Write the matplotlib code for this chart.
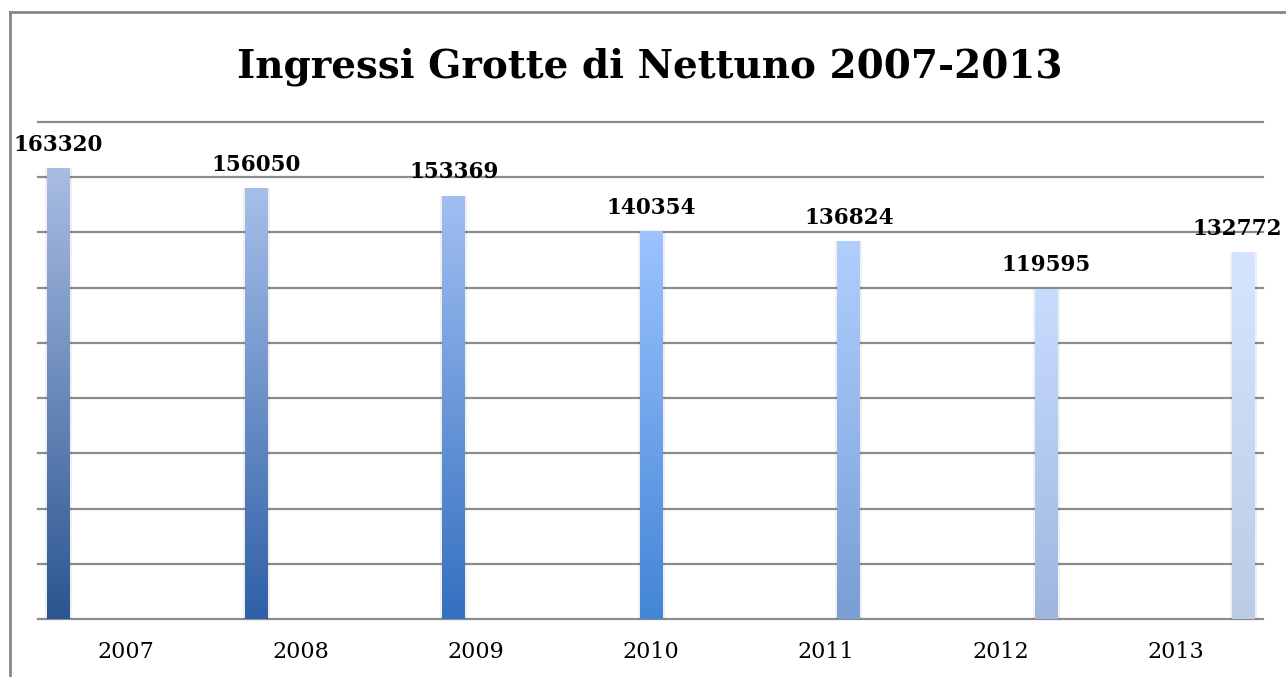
import numpy as np
import matplotlib
matplotlib.use("Agg")
import matplotlib.pyplot as plt
from matplotlib.colors import LinearSegmentedColormap
from matplotlib.lines import Line2D

years = ["2007", "2008", "2009", "2010", "2011", "2012", "2013"]
visitors = [163320, 156050, 153369, 140354, 136824, 119595, 132772]
top_colors = ["#a9bde3", "#a6bfea", "#a1bff2", "#9cc3ff", "#b0cfff", "#c8dcff", "#d6e4ff"]
bottom_colors = ["#2b5590", "#2f60a6", "#3470bf", "#4385d6", "#789ed6", "#a0b6df", "#bccbe6"]
title = "Ingressi Grotte di Nettuno 2007-2013"

W, H = 1286, 677
fig = plt.figure(figsize=(W / 100, H / 100), dpi=100)
ax = fig.add_axes([38 / W, (H - 619) / H, 1225 / W, 497 / H])

n = len(years)
cat = np.arange(n)
bar_pos = -0.383 + cat * 1.129
bar_w = 0.131

ax.set_xlim(-0.5, n - 0.5)
ax.set_ylim(0, 180000)
ax.set_yticks(np.arange(0, 180001, 20000))
ax.yaxis.grid(True, color="#8c8c8c", linewidth=1.6, zorder=0)
for gl in ax.yaxis.get_gridlines():
    gl.set_clip_on(False)
ax.set_axisbelow(True)
ax.tick_params(axis="y", left=False, labelleft=False)
ax.set_xticks(cat)
ax.set_xticklabels(years, family="DejaVu Serif", fontsize=16)
ax.tick_params(axis="x", length=0, pad=16)
for s in ax.spines.values():
    s.set_visible(False)

bars = ax.bar(bar_pos, visitors, width=bar_w, color="none", zorder=3)
for i, b in enumerate(bars):
    x0, y0 = b.get_x(), b.get_y()
    w, h = b.get_width(), b.get_height()
    # soft shadow
    ax.bar(x0 + w / 2, h, width=w * 1.18, color="#000000", alpha=0.06, zorder=2)
    cmap = LinearSegmentedColormap.from_list(f"g{i}", [bottom_colors[i], top_colors[i]])
    grad = np.linspace(0, 1, 256).reshape(-1, 1)
    im = ax.imshow(grad, extent=(x0, x0 + w, y0, y0 + h), origin="lower",
                   cmap=cmap, aspect="auto", zorder=3)
    im.set_clip_path(b)
    dx = -4.5 if i == n - 1 else 0
    ax.annotate(f"{visitors[i]}", (x0 + w / 2, h), xytext=(dx, 12.5),
                textcoords="offset points", ha="center", va="baseline",
                family="DejaVu Serif", fontweight="bold", fontsize=15.5,
                zorder=5, annotation_clip=False)

ax.set_xlim(-0.5, n - 0.5)
ax.set_ylim(0, 180000)

fig.text(650 / W, 1 - 78 / H, title, ha="center", va="baseline",
         family="DejaVu Serif", fontweight="bold", fontsize=28)

# outer frame (left and top edges)
fig.add_artist(Line2D([9.5 / W, 9.5 / W], [0, 1 - 12 / H], color="#888888", linewidth=2))
fig.add_artist(Line2D([9.5 / W, 1], [1 - 12 / H, 1 - 12 / H], color="#888888", linewidth=2))

fig.savefig("out.png", dpi=100)
